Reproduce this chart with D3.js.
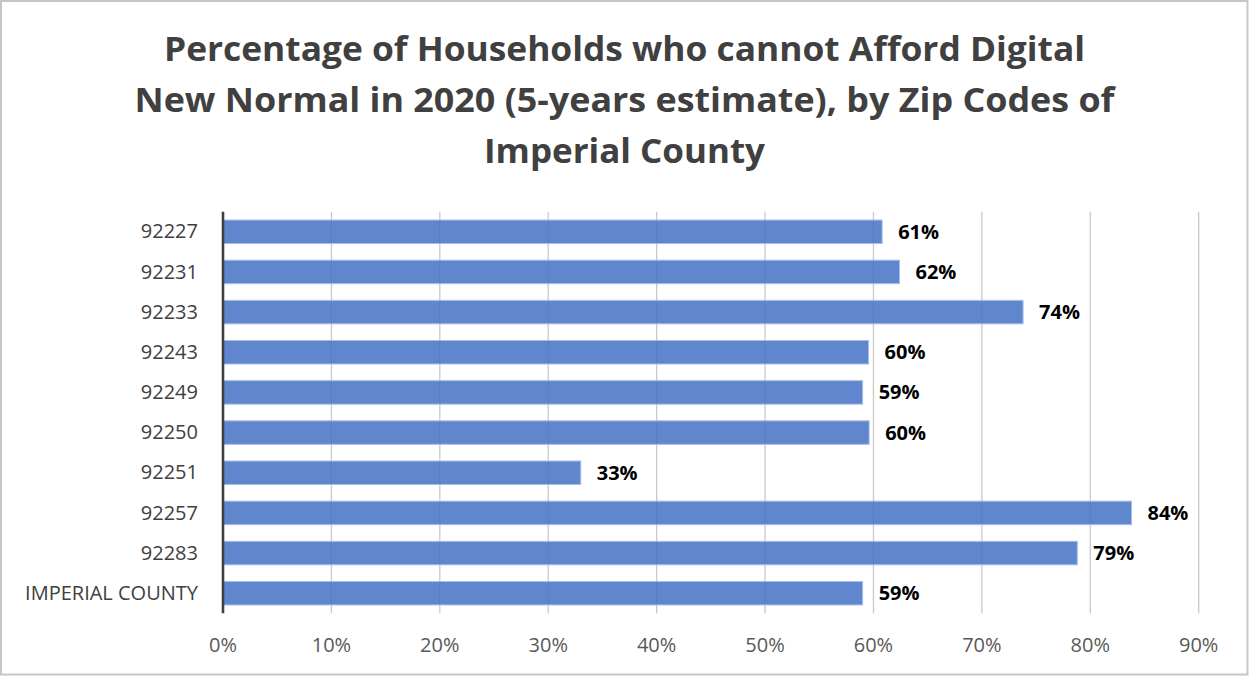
<!DOCTYPE html>
<html>
<head>
<meta charset="utf-8">
<script src="https://cdn.jsdelivr.net/npm/d3@7"></script>
<style>
  html, body { margin: 0; padding: 0; background: #fff; }
  svg { display: block; }
</style>
</head>
<body>
<script>
const titleLines = [
  "Percentage of Households who cannot Afford Digital",
  "New Normal in 2020 (5-years estimate), by Zip Codes of",
  "Imperial County"
];
const categories = ["92227","92231","92233","92243","92249","92250","92251","92257","92283","IMPERIAL COUNTY"];
const values = [60.8, 62.4, 73.8, 59.55, 59.0, 59.6, 33.0, 83.8, 78.8, 59.0];
const xTicks = [0, 10, 20, 30, 40, 50, 60, 70, 80, 90];

const W = 1249, H = 677;
const svg = d3.select("body").append("svg").attr("width", W).attr("height", H);

svg.append("rect").attr("x", 1).attr("y", 1).attr("width", W - 2.5).attr("height", H - 3.5)
  .attr("fill", "#fff").attr("stroke", "#c6c6c6").attr("stroke-width", 2);

// title
const titleWidths = [921, 980, 281];
const titleBase = [61, 112, 163];
svg.append("g").selectAll("text").data(titleLines).join("text")
  .attr("x", 624.5).attr("y", (d, i) => titleBase[i])
  .attr("text-anchor", "middle")
  .attr("font-family", "'Open Sans', sans-serif")
  .attr("font-weight", "bold").attr("font-size", 34)
  .attr("fill", "#404040")
  .attr("textLength", (d, i) => titleWidths[i])
  .attr("lengthAdjust", "spacingAndGlyphs")
  .text(d => d);

const x = d3.scaleLinear().domain([0, 90]).range([223, 1198.7]);
const y = d3.scaleBand().domain(categories).range([211.7, 613.3])
  .paddingInner(0.415).paddingOuter(0.2075);

// gridlines
svg.append("g").selectAll("line").data(xTicks.slice(1)).join("line")
  .attr("x1", d => x(d)).attr("x2", d => x(d))
  .attr("y1", 211.7).attr("y2", 613.3)
  .attr("stroke", "#c9c9c9").attr("stroke-width", 1.3);

// bars
const data = categories.map((c, i) => ({ c, v: values[i] }));
svg.append("g").selectAll("rect").data(data).join("rect")
  .attr("x", x(0)).attr("y", d => y(d.c))
  .attr("width", d => x(d.v) - x(0)).attr("height", y.bandwidth())
  .attr("fill", "#4472C4").attr("fill-opacity", 0.85)
  .attr("stroke", "#a8bee6").attr("stroke-width", 1);

// category axis line
svg.append("line").attr("x1", x(0)).attr("x2", x(0)).attr("y1", 211.7).attr("y2", 613.3)
  .attr("stroke", "#404040").attr("stroke-width", 2.6);

// y labels
svg.append("g").selectAll("text").data(categories).join("text")
  .attr("x", 198).attr("y", d => y(d) + y.bandwidth() / 2 + 6.6)
  .attr("text-anchor", "end")
  .attr("font-family", "'Open Sans', sans-serif").attr("font-size", 20)
  .attr("fill", "#404040")
  .text(d => d);

// x tick labels
svg.append("g").selectAll("text").data(xTicks).join("text")
  .attr("x", d => x(d)).attr("y", 651.7)
  .attr("text-anchor", "middle")
  .attr("font-family", "'Open Sans', sans-serif").attr("font-size", 20)
  .attr("fill", "#595959")
  .text(d => d + "%");

// data labels
svg.append("g").selectAll("text").data(data).join("text")
  .attr("x", d => x(d.v) + 16).attr("y", d => y(d.c) + y.bandwidth() / 2 + 7)
  .attr("font-family", "'Open Sans', sans-serif").attr("font-size", 20)
  .attr("font-weight", "bold").attr("fill", "#000")
  .text(d => Math.round(d.v) + "%");
</script>
</body>
</html>
